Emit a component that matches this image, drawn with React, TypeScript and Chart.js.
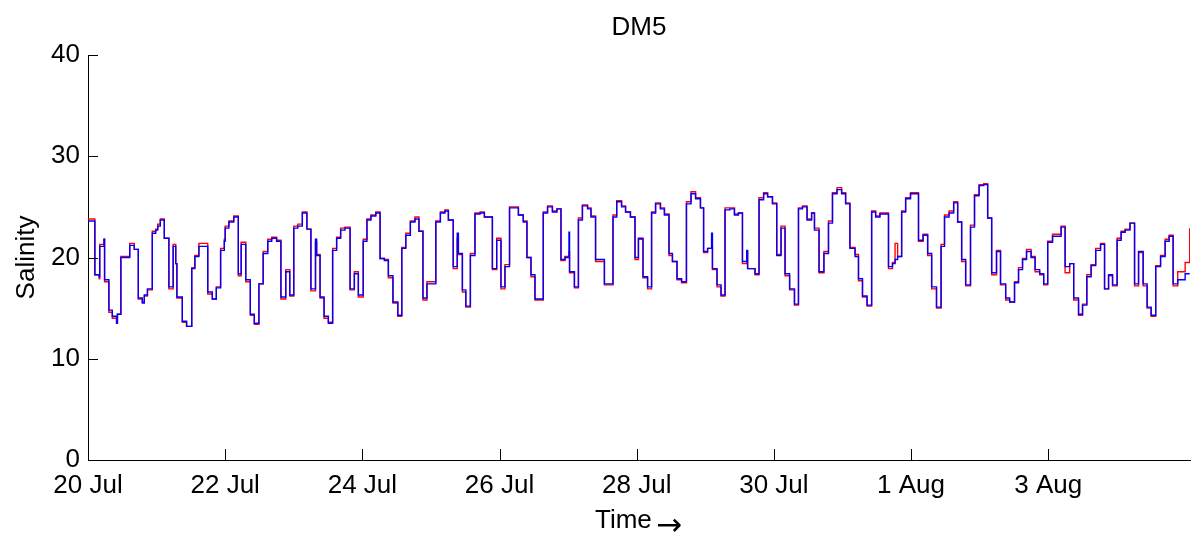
import React, { useEffect, useRef } from "react";
import { Chart, registerables } from "chart.js";

Chart.register(...registerables);

// Time in hours since 20 Jul 00:00 (start of each step)
const hours = [
  0, 2.4, 3.9, 4.1, 5.6, 5.8, 7.3, 8.5, 10.0, 10.3,
  11.5, 14.6, 16.2, 17.6, 19.0, 19.7, 20.8, 22.5, 23.7, 24.4,
  25.3, 26.7, 28.3, 29.8, 30.7, 31.1, 33.0, 34.5, 36.3, 37.4,
  38.8, 41.9, 43.5, 44.9, 46.4, 47.7, 48.0, 49.3, 51.0, 52.6,
  53.6, 55.2, 56.8, 58.2, 59.8, 61.3, 62.9, 64.3, 66.0, 67.5,
  69.2, 70.6, 72.0, 73.4, 75.0, 76.6, 78.0, 79.6, 80.0, 81.2,
  82.6, 84.1, 85.6, 87.0, 88.4, 89.9, 91.7, 93.2, 94.6, 96.3,
  97.6, 99.0, 100.7, 102.2, 103.7, 105.1, 106.7, 108.4, 109.8, 111.2,
  112.8, 114.4, 115.8, 117.2, 118.6, 121.7, 123.3, 124.9, 126.1, 127.8,
  129.2, 129.6, 131.0, 132.2, 133.8, 135.4, 137.2, 138.7, 141.5, 143.0,
  144.5, 145.9, 147.5, 150.6, 152.3, 153.6, 155.0, 156.4, 159.3, 160.8,
  162.5, 164.1, 165.5, 166.9, 168.3, 168.5, 170.2, 171.6, 173.0, 174.8,
  176.0, 177.6, 180.7, 183.7, 185.0, 186.7, 188.1, 189.8, 191.4, 192.6,
  194.2, 195.8, 197.2, 198.6, 200.3, 201.7, 203.3, 204.5, 206.1, 207.7,
  209.4, 211.0, 212.6, 214.3, 215.4, 216.8, 218.2, 218.5, 220.1, 221.5,
  222.9, 224.6, 226.2, 227.6, 229.0, 230.5, 230.8, 233.4, 234.8, 236.4,
  237.8, 239.5, 241.0, 242.5, 243.9, 245.5, 247.2, 248.6, 250.0, 251.6,
  253.2, 254.2, 255.8, 257.5, 259.1, 260.5, 262.1, 263.7, 265.1, 266.6,
  268.4, 269.6, 271.0, 272.6, 274.2, 275.6, 277.1, 280.1, 281.5, 282.4,
  283.3, 284.7, 286.1, 287.8, 290.6, 292.2, 293.8, 295.2, 296.9, 298.5,
  299.7, 301.3, 302.9, 304.3, 305.7, 307.1, 308.8, 310.2, 311.8, 313.4,
  314.8, 316.2, 317.9, 319.3, 321.1, 322.5, 324.2, 325.6, 327.0, 328.4,
  330.0, 331.4, 333.0, 334.4, 335.8, 337.5, 340.5, 341.9, 343.5, 344.9,
  346.6, 348.0, 349.5, 351.0, 352.6, 354.3, 355.7, 357.1, 358.5, 360.1,
  361.5, 362.9, 364.6, 366.2, 367.6, 369.2, 370.6, 372.0, 373.6, 375.3,
  376.9, 378.3, 379.7, 381.3, 383.9, 385.5,
];

const salinityBlue = [
  23.6, 18.3, 18.1, 21.1, 21.8, 17.8, 14.8, 14.2, 13.5, 14.4,
  20.0, 21.2, 20.8, 16.0, 15.5, 16.3, 16.9, 22.4, 22.7, 23.1,
  23.7, 21.9, 17.1, 21.1, 19.4, 16.1, 13.7, 13.2, 18.9, 20.1,
  21.1, 16.6, 15.9, 17.0, 20.7, 21.6, 22.9, 23.5, 24.0, 18.4,
  21.3, 17.8, 14.4, 13.5, 17.4, 20.4, 21.6, 21.9, 21.6, 16.1,
  18.6, 16.3, 22.9, 23.1, 24.4, 22.8, 16.9, 21.8, 20.2, 16.1,
  14.2, 13.5, 20.7, 21.9, 22.7, 22.9, 16.9, 18.4, 16.3, 21.6,
  23.7, 24.1, 24.4, 19.9, 19.7, 18.2, 15.6, 14.3, 20.9, 22.2,
  23.5, 23.8, 22.6, 16.0, 17.4, 23.5, 24.4, 24.6, 23.7, 19.1,
  22.4, 20.4, 16.8, 15.2, 20.2, 24.3, 24.4, 24.0, 18.9, 21.7,
  17.1, 19.1, 24.9, 24.2, 23.5, 20.0, 18.3, 15.9, 24.4, 25.0,
  24.5, 24.8, 19.8, 20.0, 22.5, 18.6, 17.1, 23.7, 25.1, 24.8,
  24.0, 19.8, 17.4, 24.0, 25.5, 25.0, 24.5, 24.0, 20.0, 21.9,
  18.1, 17.1, 24.4, 25.3, 24.8, 24.2, 20.4, 19.6, 17.9, 17.6,
  25.3, 26.3, 25.8, 24.9, 20.6, 20.9, 22.4, 18.9, 17.3, 16.3,
  24.7, 24.8, 24.2, 24.4, 19.6, 20.7, 18.9, 18.4, 25.7, 26.3,
  26.0, 25.3, 20.2, 22.9, 18.4, 16.9, 15.4, 24.8, 25.0, 23.7,
  24.4, 22.7, 18.6, 20.4, 23.4, 26.3, 26.7, 26.3, 25.3, 20.9,
  20.1, 17.9, 16.2, 15.3, 24.5, 24.0, 24.3, 19.1, 19.4, 19.8,
  20.1, 24.5, 25.8, 26.3, 21.7, 22.2, 20.4, 17.1, 15.1, 21.1,
  24.0, 24.4, 25.4, 23.5, 19.8, 17.3, 23.0, 26.1, 27.1, 27.2,
  23.9, 18.5, 20.6, 17.4, 16.0, 15.6, 17.5, 18.8, 19.8, 20.6,
  20.0, 18.8, 18.4, 17.4, 21.5, 22.1, 23.0, 19.1, 19.4, 16.0,
  14.4, 15.3, 18.1, 19.2, 20.7, 21.3, 16.9, 18.3, 17.3, 21.7,
  22.5, 22.7, 23.4, 17.4, 20.6, 17.4, 15.1, 14.3, 19.1, 20.1,
  21.6, 22.1, 17.4, 17.8, 18.4, 18.4,
];

const salinityRed = [
  23.8, 18.3, 17.9, 21.3, 21.8, 17.6, 14.6, 14.0, 13.6, 14.4,
  20.1, 21.4, 20.8, 15.9, 15.6, 16.2, 16.8, 22.6, 22.8, 23.3,
  23.8, 21.9, 16.9, 21.3, 19.4, 16.0, 13.6, 13.2, 19.0, 20.2,
  21.4, 16.4, 15.9, 17.1, 20.9, 21.8, 23.1, 23.6, 24.1, 18.2,
  21.5, 17.6, 14.3, 13.4, 17.4, 20.6, 21.8, 22.0, 21.7, 15.9,
  18.8, 16.2, 23.1, 23.3, 24.5, 22.8, 16.7, 21.5, 20.3, 16.0,
  14.0, 13.6, 20.9, 22.0, 22.9, 23.0, 16.8, 18.6, 16.1, 21.8,
  23.8, 24.2, 24.5, 19.9, 19.8, 18.0, 15.5, 14.2, 21.0, 22.4,
  23.6, 24.0, 22.6, 15.8, 17.6, 23.6, 24.5, 24.7, 23.7, 18.9,
  21.9, 20.3, 16.6, 15.1, 20.4, 24.4, 24.5, 24.0, 18.8, 21.9,
  16.9, 19.3, 25.0, 24.2, 23.6, 20.0, 18.1, 15.8, 24.5, 25.1,
  24.6, 24.8, 19.7, 20.1, 20.6, 18.5, 17.0, 23.9, 25.2, 24.9,
  24.1, 19.6, 17.3, 24.2, 25.6, 25.1, 24.5, 24.0, 19.8, 21.8,
  18.0, 16.9, 24.5, 25.4, 24.9, 24.3, 20.2, 19.6, 17.8, 17.5,
  25.5, 26.5, 25.9, 24.9, 20.5, 20.9, 21.0, 18.8, 17.1, 16.2,
  24.9, 24.9, 24.3, 24.4, 19.4, 20.6, 18.9, 18.3, 25.9, 26.4,
  26.0, 25.4, 20.3, 23.1, 18.2, 16.8, 15.3, 24.9, 25.1, 23.8,
  24.4, 22.9, 18.5, 20.6, 23.6, 26.4, 26.9, 26.4, 25.4, 21.0,
  20.3, 17.7, 16.1, 15.2, 24.6, 24.1, 24.4, 18.9, 19.5, 21.4,
  20.1, 24.6, 25.9, 26.4, 21.6, 22.3, 20.2, 16.9, 15.0, 21.3,
  24.2, 24.6, 25.5, 23.5, 19.6, 17.2, 23.2, 26.2, 27.2, 27.3,
  23.9, 18.3, 20.7, 17.3, 15.8, 15.6, 17.6, 19.0, 19.9, 20.8,
  20.1, 18.6, 18.3, 17.3, 21.6, 22.3, 23.1, 18.5, 19.4, 15.8,
  14.3, 15.4, 18.3, 19.3, 20.9, 21.4, 16.9, 18.2, 17.2, 21.9,
  22.6, 22.8, 23.4, 17.2, 20.5, 17.2, 15.0, 14.2, 19.2, 20.2,
  21.8, 22.2, 17.2, 18.6, 19.5, 22.9,
];

const xTickHours = [0, 48, 96, 144, 192, 240, 288, 336];
const xTickLabels = ["20 Jul", "22 Jul", "24 Jul", "26 Jul", "28 Jul", "30 Jul", "1 Aug", "3 Aug"];
const yTickValues = [0, 10, 20, 30, 40];

const titleText = "DM5";
const yTitleText = "Salinity";
const xTitleText = "Time";
const xTitleArrow = "\u2192";

const FONT = '"Liberation Sans", Arial, Helvetica, sans-serif';

export default function App() {
  const canvasRef = useRef<HTMLCanvasElement | null>(null);

  useEffect(() => {
    document.body.style.margin = "0";
    const canvas = canvasRef.current;
    if (!canvas) return;

    const blueData = hours.map((h, i) => ({ x: h, y: salinityBlue[i] }));
    const redData = hours.map((h, i) => ({ x: h, y: salinityRed[i] }));

    const decorPlugin = {
      id: "matlabDecor",
      afterDraw(chart: any) {
        const { ctx, chartArea, scales } = chart;
        ctx.save();
        ctx.strokeStyle = "#000";
        ctx.lineWidth = 1;
        ctx.beginPath();
        yTickValues.forEach((v) => {
          const py = Math.round(scales.y.getPixelForValue(v)) + 0.5;
          ctx.moveTo(chartArea.left, py);
          ctx.lineTo(chartArea.left + 10, py);
        });
        xTickHours.forEach((v) => {
          const px = Math.round(scales.x.getPixelForValue(v)) + 0.5;
          ctx.moveTo(px, chartArea.bottom);
          ctx.lineTo(px, chartArea.bottom - 11);
        });
        ctx.stroke();

        ctx.fillStyle = "#000";
        ctx.font = `26px ${FONT}`;
        const cx = (chartArea.left + chartArea.right) / 2;
        ctx.textAlign = "center";
        ctx.textBaseline = "alphabetic";
        ctx.fillText(titleText, cx, 35);

        // x title
        ctx.textAlign = "left";
        ctx.fillText(xTitleText, 595, 528);
        ctx.font = `31px "DejaVu Sans", sans-serif`;
        ctx.fillText(xTitleArrow, 656, 535);

        // y title
        ctx.font = `26px ${FONT}`;
        ctx.save();
        ctx.translate(34, (chartArea.top + chartArea.bottom) / 2);
        ctx.rotate(-Math.PI / 2);
        ctx.textAlign = "center";
        ctx.fillText(yTitleText, 0, 0);
        ctx.restore();

        ctx.restore();
      },
    };

    const chart = new Chart(canvas, {
      type: "line",
      data: {
        datasets: [
          {
            label: "blue",
            data: blueData,
            borderColor: "#0000ff",
            borderWidth: 1.4,
            pointRadius: 0,
            stepped: "before",
            fill: false,
          },
          {
            label: "red",
            data: redData,
            borderColor: "#ff0000",
            borderWidth: 1.4,
            pointRadius: 0,
            stepped: "before",
            fill: false,
          },
        ],
      },
      options: {
        animation: false,
        responsive: false,
        events: [],
        layout: { padding: { top: 55, right: 2, left: 0, bottom: 0 } },
        plugins: {
          legend: { display: false },
          tooltip: { enabled: false },
          title: { display: false },
        },
        scales: {
          x: {
            type: "linear",
            min: 0,
            max: 385.6,
            afterBuildTicks: (scale: any) => {
              scale.ticks = xTickHours.map((v) => ({ value: v }));
            },
            afterFit: (scale: any) => {
              scale.height = 76;
            },
            grid: { display: false, drawTicks: false },
            border: { display: true, color: "#000", width: 1 },
            ticks: {
              autoSkip: false,
              maxRotation: 0,
              padding: 10,
              color: "#000",
              font: { family: FONT, size: 26 },
              callback: (value: any) => {
                const idx = xTickHours.indexOf(Number(value));
                return idx >= 0 ? xTickLabels[idx] : "";
              },
            },
          },
          y: {
            min: 0,
            max: 40,
            afterBuildTicks: (scale: any) => {
              scale.ticks = yTickValues.map((v) => ({ value: v }));
            },
            afterFit: (scale: any) => {
              scale.width = 88;
            },
            grid: { display: false, drawTicks: false },
            border: { display: true, color: "#000", width: 1 },
            ticks: {
              padding: 8,
              color: "#000",
              font: { family: FONT, size: 26 },
              callback: (value: any) => String(value),
            },
          },
        },
      },
      plugins: [decorPlugin],
    });

    return () => {
      chart.destroy();
    };
  }, []);

  return (
    <div style={{ width: 1192, height: 536, background: "#fff" }}>
      <canvas ref={canvasRef} width={1192} height={536} style={{ display: "block" }} />
    </div>
  );
}
